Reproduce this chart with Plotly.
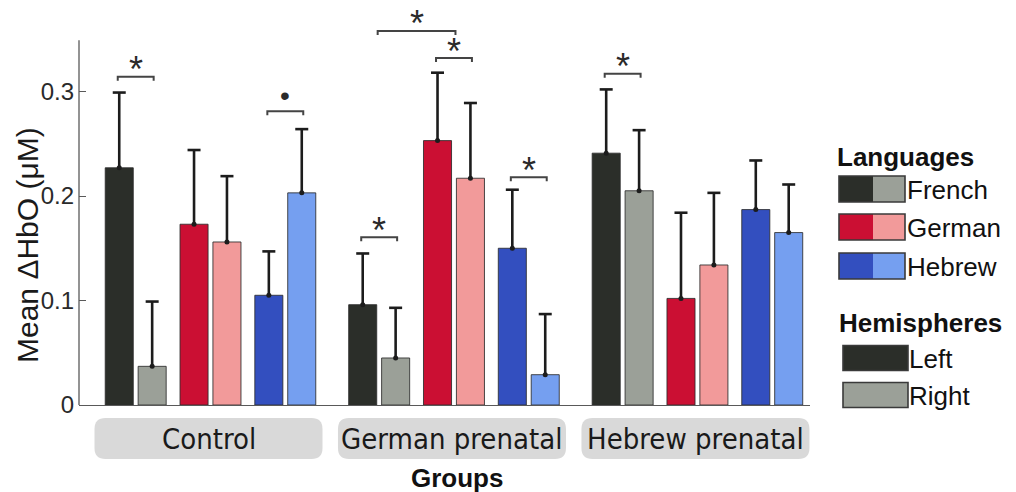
import plotly.graph_objects as go

# ---------------- data ----------------
groups = ["Control", "German prenatal", "Hebrew prenatal"]
languages = ["French", "German", "Hebrew"]
hemispheres = ["Left", "Right"]

french_left = [0.227, 0.096, 0.241]
french_right = [0.037, 0.045, 0.205]
german_left = [0.173, 0.253, 0.102]
german_right = [0.156, 0.217, 0.134]
hebrew_left = [0.105, 0.150, 0.187]
hebrew_right = [0.203, 0.029, 0.165]

french_left_err = [0.072, 0.049, 0.061]
french_right_err = [0.062, 0.048, 0.058]
german_left_err = [0.071, 0.065, 0.082]
german_right_err = [0.063, 0.072, 0.069]
hebrew_left_err = [0.042, 0.056, 0.047]
hebrew_right_err = [0.061, 0.058, 0.046]

y_ticks = [0, 0.1, 0.2, 0.3]
y_tick_labels = ["0", "0.1", "0.2", "0.3"]

# significance comparisons
sig_group = [0, 0, 1, 1, 1, 1, 2]
sig_left = ["French Left", "Hebrew Left", "French Left", "French", "German Left", "Hebrew Left", "French Left"]
sig_right = ["French Right", "Hebrew Right", "French Right", "German", "German Right", "Hebrew Right", "French Right"]
sig_level = [0.314, 0.281, 0.1605, 0.358, 0.332, 0.218, 0.317]
sig_mark = ["*", "•", "*", "*", "*", "*", "*"]

# ---------------- styles / layout geometry ----------------
colors = {
    ("French", "Left"): "#2b2e29", ("French", "Right"): "#9ba098",
    ("German", "Left"): "#cb0f33", ("German", "Right"): "#f29a9a",
    ("Hebrew", "Left"): "#334fbf", ("Hebrew", "Right"): "#759ff0",
}
values = {
    ("French", "Left"): (french_left, french_left_err),
    ("French", "Right"): (french_right, french_right_err),
    ("German", "Left"): (german_left, german_left_err),
    ("German", "Right"): (german_right, german_right_err),
    ("Hebrew", "Left"): (hebrew_left, hebrew_left_err),
    ("Hebrew", "Right"): (hebrew_right, hebrew_right_err),
}

W, H = 1016, 492
PL, PR, PT, PB = 79, 810, 10, 405          # plot area in window pixels
PX_PER_UNIT = 74.8
GROUP_GAP = 3.255
BAR_OFF = 0.22
BAR_W = 0.375
G0_PX = 210.5
XMIN = (PL - G0_PX) / PX_PER_UNIT
XMAX = (PR - G0_PX) / PX_PER_UNIT
PX_PER_Y = 1045.0
YMAX = (PB - PT) / PX_PER_Y
AXIS_TOP = 0.349
CAP = 6.5 / PX_PER_UNIT


def pair_x(g, lang):
    return g * GROUP_GAP + (languages.index(lang) - 1)


def bar_x(g, lang, hemi):
    return pair_x(g, lang) + (-BAR_OFF if hemi == "Left" else BAR_OFF)


def x_to_px(u):
    return PL + (u - XMIN) / (XMAX - XMIN) * (PR - PL)


def px_to_paper_x(px):
    return (px - PL) / (PR - PL)


def px_to_paper_y(py):
    return (PB - py) / (PB - PT)


def resolve(g, name):
    parts = name.split()
    if len(parts) == 2:
        return bar_x(g, parts[0], parts[1])
    return pair_x(g, parts[0])


fig = go.Figure()

# bars
for lang in languages:
    for hemi in hemispheres:
        vals, errs = values[(lang, hemi)]
        xs = [bar_x(g, lang, hemi) for g in range(len(groups))]
        fig.add_trace(go.Bar(
            x=xs, y=vals, width=BAR_W,
            marker=dict(color=colors[(lang, hemi)], line=dict(color="rgba(45,45,45,0.85)", width=1)),
            showlegend=False, hoverinfo="skip",
        ))

# error bars (upper only)
ex, ey, dx, dy = [], [], [], []
for lang in languages:
    for hemi in hemispheres:
        vals, errs = values[(lang, hemi)]
        for g in range(len(groups)):
            xc = bar_x(g, lang, hemi)
            top = vals[g] + errs[g]
            ex += [xc, xc, None, xc - CAP, xc + CAP, None]
            ey += [vals[g], top, None, top, top, None]
            dx.append(xc)
            dy.append(vals[g])
fig.add_trace(go.Scatter(x=ex, y=ey, mode="lines", line=dict(color="#1c1c1c", width=2.6),
                         showlegend=False, hoverinfo="skip"))
fig.add_trace(go.Scatter(x=dx, y=dy, mode="markers", marker=dict(color="#1c1c1c", size=5),
                         showlegend=False, hoverinfo="skip"))

# significance brackets
annotations = []
TICK_D = 4 / PX_PER_Y
bx, by = [], []
for g, a, b, lev, mark in zip(sig_group, sig_left, sig_right, sig_level, sig_mark):
    xa = resolve(g, a) - 1.5 / PX_PER_UNIT
    xb = resolve(g, b) + 1.5 / PX_PER_UNIT
    bx += [xa, xa, xb, xb, None]
    by += [lev - TICK_D, lev, lev, lev - TICK_D, None]
    star = mark == "*"
    annotations.append(dict(
        x=(xa + xb) / 2, y=lev, xref="x", yref="y", text=mark, showarrow=False,
        yanchor="middle", yshift=7 if star else 16, borderpad=0,
        font=dict(family="Liberation Sans", size=36 if star else 28, color="#2a2a2a"),
    ))
fig.add_trace(go.Scatter(x=bx, y=by, mode="lines", line=dict(color="#444444", width=2),
                         showlegend=False, hoverinfo="skip", cliponaxis=False))

shapes = []
# y axis line (stops below the top of the plotting area)
shapes.append(dict(type="line", xref="paper", yref="y", x0=0, x1=0, y0=0, y1=AXIS_TOP,
                   line=dict(color="#595959", width=1.3)))


def rrect_path(x0, x1, y0, y1, r):
    def P(px, py):
        return f"{px_to_paper_x(px):.5f},{px_to_paper_y(py):.5f}"
    return (f"M{P(x0 + r, y0)} L{P(x1 - r, y0)} Q{P(x1, y0)} {P(x1, y0 + r)} "
            f"L{P(x1, y1 - r)} Q{P(x1, y1)} {P(x1 - r, y1)} L{P(x0 + r, y1)} "
            f"Q{P(x0, y1)} {P(x0, y1 - r)} L{P(x0, y0 + r)} Q{P(x0, y0)} {P(x0 + r, y0)} Z")


# group label boxes
for g, name in enumerate(groups):
    cpx = x_to_px(g * GROUP_GAP) - 2
    shapes.append(dict(type="path", xref="paper", yref="paper",
                       path=rrect_path(cpx - 114, cpx + 114, 418, 459, 11),
                       fillcolor="#d9d9d9", line=dict(width=0), layer="below"))
    annotations.append(dict(x=px_to_paper_x(cpx), y=px_to_paper_y(439), xref="paper", yref="paper",
                            text=name, showarrow=False, xanchor="center", yanchor="middle",
                            font=dict(family="DejaVu Sans Condensed", size=29, color="#1a1a1a")))

annotations.append(dict(x=px_to_paper_x(457), y=px_to_paper_y(478), xref="paper", yref="paper",
                        text="<b>Groups</b>", showarrow=False, xanchor="center", yanchor="middle",
                        font=dict(family="Liberation Sans", size=26, color="#111111")))

# y axis title
annotations.append(dict(x=px_to_paper_x(27), y=px_to_paper_y(245), xref="paper", yref="paper",
                        text="Mean ΔHbO (μM)", textangle=-90, showarrow=False,
                        xanchor="center", yanchor="middle",
                        font=dict(family="Liberation Sans", size=30, color="#1a1a1a")))


# custom legend
def rect(x0, x1, y0, y1, fill=None, line=None):
    d = dict(type="rect", xref="paper", yref="paper",
             x0=px_to_paper_x(x0), x1=px_to_paper_x(x1),
             y0=px_to_paper_y(y1), y1=px_to_paper_y(y0))
    d["fillcolor"] = fill if fill else "rgba(0,0,0,0)"
    d["line"] = dict(color=line, width=1.6) if line else dict(width=0)
    return d


def legend_text(txt, x, y, bold=False):
    annotations.append(dict(x=px_to_paper_x(x), y=px_to_paper_y(y), xref="paper", yref="paper",
                            text=f"<b>{txt}</b>" if bold else txt, showarrow=False,
                            xanchor="left", yanchor="middle",
                            font=dict(family="Liberation Sans", size=26, color="#111111")))


legend_text("Languages", 835, 157, bold=True)
lang_rows = [189, 227, 266]
for lang, yc in zip(languages, lang_rows):
    shapes.append(rect(839, 873, yc - 13, yc + 13, fill=colors[(lang, "Left")]))
    shapes.append(rect(873, 905, yc - 13, yc + 13, fill=colors[(lang, "Right")]))
    shapes.append(rect(839, 905, yc - 13, yc + 13, line="#3a3a3a"))
    legend_text(lang, 905, yc + 1)

legend_text("Hemispheres", 837, 323, bold=True)
hemi_rows = [358, 395]
for hemi, yc in zip(hemispheres, hemi_rows):
    shapes.append(rect(843, 908, yc - 12.5, yc + 12.5, fill=colors[("French", hemi)], line="#3a3a3a"))
    legend_text(hemi, 907, yc + 1)

fig.update_layout(
    width=W, height=H,
    margin=dict(l=PL, r=W - PR, t=PT, b=H - PB, pad=0),
    paper_bgcolor="white", plot_bgcolor="white",
    font=dict(family="Liberation Sans", color="#262626"),
    barmode="overlay",
    showlegend=False,
    xaxis=dict(range=[XMIN, XMAX], showticklabels=False, ticks="", showgrid=False, zeroline=False,
               showline=True, linecolor="#595959", linewidth=1.3, fixedrange=True),
    yaxis=dict(range=[0, YMAX], tickvals=y_ticks, ticktext=y_tick_labels, ticks="inside",
               ticklen=7, tickwidth=1.3, tickcolor="#595959", showgrid=False, zeroline=False,
               showline=False, tickfont=dict(family="Liberation Sans", size=24, color="#2a2a2a"),
               ticklabelstandoff=4),
    shapes=shapes,
    annotations=annotations,
)

fig.write_html("out.html", config={"displayModeBar": False},
               post_script="document.body.style.margin='0px';")
